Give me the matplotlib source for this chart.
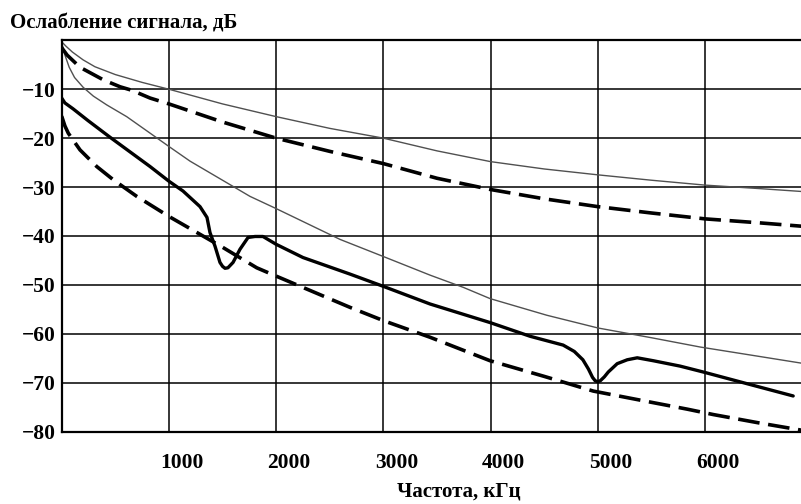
import matplotlib.pyplot as plt
import matplotlib.transforms as mtransforms

# frequency, kHz / attenuation, dB
f_thin_up = [0, 40, 100, 200, 310, 500, 750, 1000, 1500, 2000, 2500, 3000, 3500, 4000,
             4500, 5000, 5500, 6000, 6500, 6900]
db_thin_up = [-0.3, -1.2, -2.4, -4.0, -5.4, -7.0, -8.6, -10.0, -13.0, -15.6, -18.0, -20.0, -22.6, -24.8,
              -26.3, -27.5, -28.6, -29.6, -30.3, -30.9]

f_dash_up = [0, 50, 170, 390, 545, 652, 824, 1000, 1500, 2000, 2500, 3000, 3500,
             4000, 4500, 5000, 5500, 6000, 6500, 6900]
db_dash_up = [-1.5, -3.0, -5.5, -8.1, -9.5, -10.2, -11.8, -13.0, -16.7, -20.0, -22.7, -25.2, -28.2,
              -30.5, -32.4, -34.0, -35.3, -36.5, -37.3, -38.0]

f_thin_low = [0, 30, 70, 120, 200, 295, 420, 606, 800, 1000, 1197, 1500, 1756, 2000, 2596, 3000,
              3435, 3745, 3995, 4524, 5000, 5500, 5955, 6500, 6900]
db_thin_low = [-0.5, -3.0, -5.5, -7.6, -9.6, -11.4, -13.2, -15.6, -18.6, -21.7, -24.7, -28.6, -31.9, -34.4,
               -40.7, -44.2, -48.0, -50.5, -52.8, -56.2, -58.8, -60.8, -62.7, -64.6, -66.0]

f_solid = [0, 30, 106, 245, 450, 824, 1000, 1131, 1290, 1355, 1383, 1430, 1476, 1500,
           1523, 1550, 1598, 1663, 1738, 1803, 1877, 2000, 2250, 2690, 3000, 3435, 3995,
           4368, 4676, 4780, 4860, 4912, 4950, 4975, 5000, 5022, 5060, 5097, 5180, 5274,
           5367, 5517, 5767, 5982, 6392, 6821]
db_solid = [-11.8, -12.8, -14.0, -16.4, -19.8, -25.8, -28.8, -30.8, -34.0, -36.2, -39.3, -42.1, -45.4, -46.2,
            -46.6, -46.5, -45.4, -42.7, -40.3, -40.1, -40.1, -41.7, -44.4, -47.8, -50.3, -53.9, -57.7,
            -60.5, -62.3, -63.6, -65.3, -67.2, -68.9, -69.6, -69.8, -69.6, -68.8, -67.8, -66.1, -65.3,
            -64.9, -65.5, -66.6, -67.8, -70.2, -72.7]

f_dash_low = [0, 30, 62, 171, 327, 481, 700, 1000, 1500, 1819, 2000, 2690, 3000, 3435,
              3995, 4500, 4957, 5500, 5834, 6076, 6500, 6900]
db_dash_low = [-15.5, -17.5, -19.0, -22.4, -25.8, -28.5, -31.9, -36.0, -42.3, -46.5, -48.2, -54.6, -57.3, -60.7,
               -65.5, -68.7, -71.7, -74.0, -75.4, -76.5, -78.2, -79.7]

x_ticks = [1000, 2000, 3000, 4000, 5000, 6000]
y_ticks = [-10, -20, -30, -40, -50, -60, -70, -80]

plt.rcParams['font.family'] = ['Liberation Serif', 'DejaVu Serif']
plt.rcParams['font.weight'] = 'bold'

fig = plt.figure(figsize=(8.01, 5.04), dpi=100)
ax = fig.add_axes([0.077, 0.1435, 0.923, 0.7765])

ax.plot(f_thin_up, db_thin_up, color='#505050', lw=1.0)
ax.plot(f_thin_low, db_thin_low, color='#505050', lw=1.0)
ax.plot(f_dash_up, db_dash_up, color='black', lw=2.6, dashes=(6, 2.4))
ax.plot(f_dash_low, db_dash_low, color='black', lw=2.6, dashes=(6, 2.4))
ax.plot(f_solid, db_solid, color='black', lw=2.4, solid_capstyle='round',
        solid_joinstyle='round')

ax.set_xlim(0, 6894)
ax.set_ylim(-80, 0)
ax.set_xticks(x_ticks)
ax.set_yticks(y_ticks)
ax.grid(True, color='black', lw=1.1)
ax.set_axisbelow(True)
for side in ['left', 'bottom', 'top']:
    ax.spines[side].set_linewidth(1.6)
ax.spines['right'].set_visible(False)

ax.tick_params(axis='both', length=0, labelsize=15.5)
ax.tick_params(axis='y', pad=4)
ax.tick_params(axis='x', pad=15)
shift = mtransforms.ScaledTranslation(13 / 100, 0, fig.dpi_scale_trans)
for lbl in ax.get_xticklabels():
    lbl.set_transform(lbl.get_transform() + shift)

fig.text(10 / 801, 1 - 28 / 504, 'Ослабление сигнала, дБ', ha='left', va='baseline',
         fontsize=15, fontweight='bold')
fig.text(459 / 801, 1 - 497 / 504, 'Частота, кГц', ha='center', va='baseline',
         fontsize=15, fontweight='bold')

plt.savefig('out.png', dpi=100)
plt.close()
